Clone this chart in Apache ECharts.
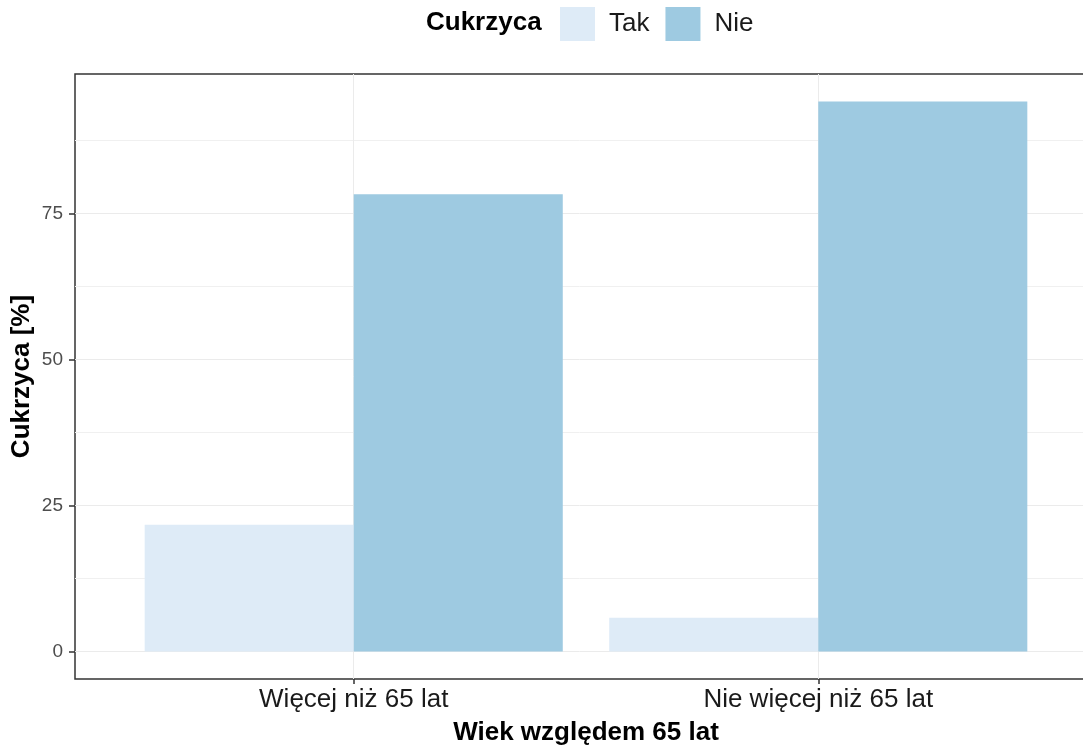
<!DOCTYPE html>
<html>
<head>
<meta charset="utf-8">
<script src="https://cdn.jsdelivr.net/npm/echarts@6/dist/echarts.min.js"></script>
<style>
  html, body { margin: 0; padding: 0; background: #fff; }
  #main { width: 1083px; height: 750px; }
</style>
</head>
<body>
<div id="main"></div>
<script>
// data
let categories = ['Więcej niż 65 lat', 'Nie więcej niż 65 lat'];
let tak = [21.7, 5.8];
let nie = [78.3, 94.2];
let majorTicks = [0, 25, 50, 75];
let minorTicks = [12.5, 37.5, 62.5, 87.5];

let font = '"Liberation Sans", Arial, sans-serif';
let pos = categories.map((c, i) => i + 1);
let maxVal = Math.max(...tak, ...nie);

let option = {
    animation: false,
    backgroundColor: '#fff',
    title: {
        text: 'Cukrzyca',
        left: 421,
        top: 5,
        textStyle: { fontFamily: font, fontSize: 26, fontWeight: 'bold', color: '#000' }
    },
    legend: {
        data: ['Tak', 'Nie'],
        left: 555,
        top: 2,
        icon: 'rect',
        itemWidth: 35,
        itemHeight: 34,
        itemGap: 16,
        textStyle: { fontFamily: font, fontSize: 26, color: '#1a1a1a', padding: [0, 0, 3, 9] }
    },
    grid: {
        left: 75,
        top: 74,
        bottom: 71,
        right: -14,
        containLabel: false,
        outerBoundsMode: 'none',
        show: true,
        backgroundColor: '#fff',
        borderColor: '#333',
        borderWidth: 1.5
    },
    xAxis: {
        type: 'value',
        min: 0.4,
        max: pos.length + 0.6,
        name: 'Wiek względem 65 lat',
        nameLocation: 'middle',
        nameGap: 41,
        nameMoveOverlap: false,
        nameTextStyle: { fontFamily: font, fontSize: 26, fontWeight: 'bold', color: '#000' },
        axisLine: { show: false, onZero: false },
        axisTick: { show: true, customValues: pos, length: 5, lineStyle: { color: '#333', width: 1.5 } },
        axisLabel: {
            customValues: pos,
            margin: 8,
            fontFamily: font,
            fontSize: 26,
            color: '#1a1a1a',
            formatter: v => categories[Math.round(v) - 1]
        },
        splitLine: { show: true, lineStyle: { color: '#ebebeb', width: 1 } }
    },
    yAxis: [{
        type: 'value',
        min: -maxVal * 0.05,
        max: maxVal * 1.05,
        name: 'Cukrzyca [%]',
        nameLocation: 'middle',
        nameGap: 40,
        nameMoveOverlap: false,
        nameTextStyle: { fontFamily: font, fontSize: 26, fontWeight: 'bold', color: '#000' },
        axisLine: { show: false, onZero: false },
        axisTick: { show: true, customValues: majorTicks, length: 6, lineStyle: { color: '#333', width: 1.5 } },
        axisLabel: { customValues: majorTicks, margin: 12, fontFamily: font, fontSize: 19, color: '#4d4d4d' },
        splitLine: { show: true, lineStyle: { color: '#ebebeb', width: 1 } }
    }, {
        type: 'value',
        position: 'left',
        min: -maxVal * 0.05,
        max: maxVal * 1.05,
        axisLine: { show: false, onZero: false },
        axisTick: { show: false, customValues: minorTicks },
        axisLabel: { show: false, customValues: minorTicks },
        splitLine: { show: true, lineStyle: { color: '#f0f0f0', width: 1 } }
    }],
    series: [
        {
            name: 'Tak',
            type: 'bar',
            data: pos.map((p, i) => [p, tak[i]]),
            barWidth: '45%',
            barGap: '0%',
            itemStyle: { color: '#deebf7' }
        },
        {
            name: 'Nie',
            type: 'bar',
            data: pos.map((p, i) => [p, nie[i]]),
            barWidth: '45%',
            barGap: '0%',
            itemStyle: { color: '#9ecae1' }
        }
    ]
};

let myChart = echarts.init(document.getElementById('main'));
myChart.setOption(option);
</script>
</body>
</html>
